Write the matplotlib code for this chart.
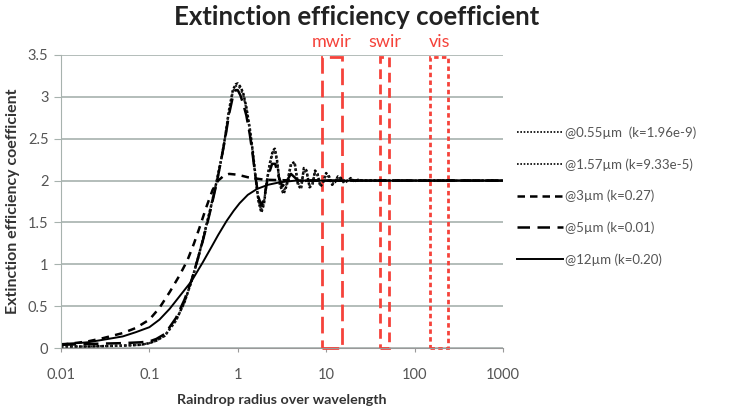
"""
Extinction efficiency coefficient vs raindrop radius over wavelength.
"""

import matplotlib
matplotlib.use("Agg")
import matplotlib.pyplot as plt
from matplotlib.patches import Rectangle
from matplotlib.lines import Line2D

plt.rcParams['font.family'] = ['Lato', 'DejaVu Sans']

# data
x_055 = [0.01, 0.02, 0.05, 0.08, 0.1, 0.12, 0.15, 0.2, 0.25, 0.3, 0.35, 0.4,
         0.45, 0.5, 0.58, 0.65, 0.72, 0.8, 0.88, 0.95, 1.0, 1.07, 1.15, 1.25,
         1.37, 1.48, 1.6, 1.72, 1.85, 1.98, 2.12, 2.3, 2.5, 2.63, 2.78, 3.0,
         3.3, 3.6, 4.0, 4.4, 4.8, 5.2, 5.6, 6.0, 6.5, 7.0, 7.5, 8.0, 8.6, 9.2,
         10.0, 10.8, 11.7, 12.6, 13.6, 14.7, 16.0, 17.5, 19.0, 21.0, 23.0,
         26.0, 30.0, 40.0, 100.0, 1000.0]
y_055 = [0.02, 0.02, 0.03, 0.04, 0.06, 0.09, 0.15, 0.33, 0.55, 0.8, 1.05,
         1.28, 1.5, 1.7, 2.0, 2.25, 2.52, 2.85, 3.08, 3.15, 3.16, 3.12, 3.05,
         2.88, 2.62, 2.35, 2.02, 1.75, 1.62, 1.72, 1.97, 2.2, 2.36, 2.38, 2.25,
         1.95, 1.84, 1.95, 2.2, 2.22, 1.95, 1.9, 2.15, 2.12, 1.92, 1.95, 2.12,
         2.08, 1.93, 1.97, 2.09, 2.05, 1.95, 1.98, 2.05, 2.03, 1.97, 2.0, 2.03,
         1.99, 2.01, 2.0, 2.0, 2.0, 2.0, 2.0]

x_157 = x_055
y_157 = [0.02, 0.02, 0.03, 0.04, 0.06, 0.09, 0.15, 0.33, 0.55, 0.8, 1.05,
         1.28, 1.5, 1.7, 2.0, 2.25, 2.52, 2.85, 3.06, 3.13, 3.14, 3.1, 3.03,
         2.86, 2.6, 2.33, 2.0, 1.76, 1.64, 1.74, 1.98, 2.19, 2.34, 2.36, 2.22,
         1.96, 1.86, 1.97, 2.18, 2.2, 1.97, 1.92, 2.13, 2.1, 1.94, 1.96, 2.1,
         2.06, 1.95, 1.98, 2.07, 2.04, 1.96, 1.99, 2.04, 2.02, 1.98, 2.0, 2.02,
         1.99, 2.01, 2.0, 2.0, 2.0, 2.0, 2.0]

x_3 = [0.01, 0.02, 0.03, 0.05, 0.07, 0.1, 0.13, 0.17, 0.22, 0.27, 0.32,
       0.37, 0.44, 0.52, 0.6, 0.7, 0.8, 1.0, 1.3, 2.0, 5.0, 1000.0]
y_3 = [0.04, 0.08, 0.12, 0.18, 0.24, 0.34, 0.48, 0.67, 0.87, 1.05, 1.25,
       1.44, 1.68, 1.89, 2.0, 2.06, 2.08, 2.07, 2.04, 2.01, 2.0, 2.0]

x_5 = [0.01, 0.02, 0.05, 0.08, 0.1, 0.12, 0.15, 0.2, 0.25, 0.3, 0.35, 0.4,
       0.45, 0.5, 0.58, 0.65, 0.72, 0.8, 0.88, 0.95, 1.0, 1.07, 1.15, 1.25,
       1.37, 1.48, 1.6, 1.72, 1.85, 2.0, 2.2, 2.45, 2.65, 2.9, 3.2, 3.6, 4.0,
       4.5, 5.0, 6.0, 8.0, 10.0, 1000.0]
y_5 = [0.04, 0.05, 0.06, 0.07, 0.08, 0.11, 0.17, 0.36, 0.58, 0.81, 1.05,
       1.27, 1.48, 1.68, 1.98, 2.25, 2.5, 2.8, 3.0, 3.08, 3.08, 3.02, 2.92,
       2.78, 2.55, 2.3, 2.02, 1.8, 1.7, 1.8, 2.05, 2.2, 2.2, 2.05, 1.93, 2.0,
       2.08, 2.03, 1.98, 2.0, 2.0, 2.0, 2.0]

x_12 = [0.01, 0.015, 0.02, 0.03, 0.05, 0.07, 0.1, 0.13, 0.17, 0.22, 0.3,
        0.4, 0.5, 0.6, 0.75, 0.9, 1.05, 1.3, 1.65, 2.2, 3.0, 4.5, 10.0,
        1000.0]
y_12 = [0.05, 0.06, 0.07, 0.1, 0.14, 0.19, 0.25, 0.34, 0.47, 0.62, 0.8,
        1.02, 1.2, 1.35, 1.52, 1.64, 1.73, 1.83, 1.9, 1.95, 1.98, 2.0, 2.0,
        2.0]

labels = ['@0.55\u00b5m  (k=1.96e-9)', '@1.57\u00b5m (k=9.33e-5)',
          '@3\u00b5m (k=0.27)', '@5\u00b5m (k=0.01)', '@12\u00b5m (k=0.20)']

# spectral bands (x range) and their labels
bands = ['mwir', 'swir', 'vis']
band_lo = [8.9, 41.0, 150.0]
band_hi = [15.0, 51.0, 240.0]
band_dash = [(0, (6, 2.5)), (0, (3.5, 2)), (0, (1.6, 1.2))]
band_top = 3.47

red = '#f5423a'
grid_c = '#a7b2ae'
text_c = '#555555'

fig = plt.figure(figsize=(7.39, 4.13), dpi=100)
ax = fig.add_axes([0.0825, 0.157, 0.598, 0.71])

ax.set_xscale('log')
ax.set_xlim(0.01, 1000)
ax.set_ylim(0, 3.5)
ax.set_yticks([0, 0.5, 1, 1.5, 2, 2.5, 3, 3.5])
ax.set_yticklabels(['0', '0.5', '1', '1.5', '2', '2.5', '3', '3.5'])
ax.set_xticks([0.01, 0.1, 1, 10, 100, 1000])
ax.set_xticklabels(['0.01', '0.1', '1', '10', '100', '1000'])
ax.minorticks_off()
ax.yaxis.grid(True, color=grid_c, lw=1.2)
ax.set_axisbelow(True)
for s in ['top', 'right']:
    ax.spines[s].set_visible(False)
ax.spines['left'].set_color(grid_c)
ax.spines['bottom'].set_color('#999999')
ax.tick_params(axis='y', colors=grid_c, length=5, labelcolor=text_c,
               labelsize=10.5, pad=4)
ax.tick_params(axis='x', colors='#999999', length=3, labelcolor=text_c,
               labelsize=10.5, pad=11)

# curves
h1, = ax.plot(x_055, y_055, color='black', lw=1.8, ls=(0, (1, 0.8)))
h2, = ax.plot(x_157, y_157, color='#222222', lw=1.6, ls=(0, (1, 1.2)))
h3, = ax.plot(x_3, y_3, color='black', lw=1.8, ls=(0, (3, 2.5)))
h4, = ax.plot(x_5, y_5, color='black', lw=1.8, ls=(0, (6, 3)))
h5, = ax.plot(x_12, y_12, color='black', lw=1.4)

# band rectangles
for name, lo, hi, ls in zip(bands, band_lo, band_hi, band_dash):
    ax.add_patch(Rectangle((lo, 0), hi - lo, band_top, fill=False,
                           edgecolor=red, lw=2, ls=ls, clip_on=False))
    ax.text((lo * hi) ** 0.5, 3.56, name, color=red, fontsize=13,
            ha='center', va='bottom')

fig.text(0.482, 0.958, 'Extinction efficiency coefficient', ha='center',
         va='center', fontsize=18.5, fontweight='bold', color='#222222')
ax.set_xlabel('Raindrop radius over wavelength', fontsize=10.3,
              fontweight='bold', color='#333333', labelpad=9)
ax.set_ylabel('Extinction efficiency coefficient', fontsize=11.5,
              fontweight='bold', color='#333333', labelpad=6)

handles = [
    Line2D([], [], color='black', lw=1.2, ls=(0, (1, 1))),
    Line2D([], [], color='black', lw=1.2, ls=(0, (1, 1))),
    Line2D([], [], color='black', lw=1.8, ls=(0, (3, 2))),
    Line2D([], [], color='black', lw=1.8, ls=(0, (5, 3))),
    Line2D([], [], color='black', lw=1.4),
]
fig.legend(handles, labels, loc='upper left', bbox_to_anchor=(0.69, 0.71),
           frameon=False, fontsize=9.5, handlelength=3.5, handletextpad=0.15,
           labelspacing=1.45, borderpad=0, labelcolor=text_c)

fig.savefig('out.png', dpi=100)
